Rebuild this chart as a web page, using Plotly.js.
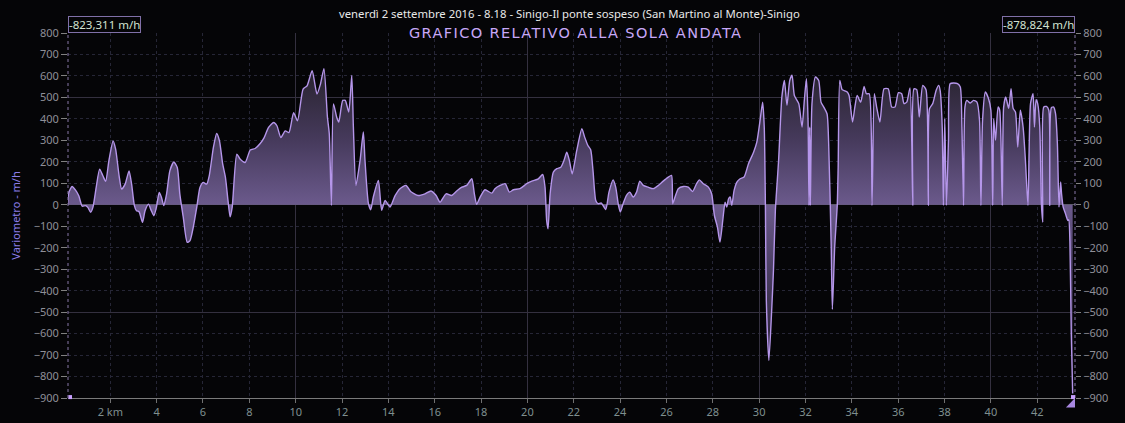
<!DOCTYPE html>
<html>
<head>
<meta charset="utf-8">
<script src="https://cdn.plot.ly/plotly-3.0.1.min.js"></script>
<style>
html,body{margin:0;padding:0;background:#050507;}
#chart{width:1125px;height:423px;}
g.annotation[data-index="1"] text{letter-spacing:1.4px;}
</style>
</head>
<body>
<div id="chart"></div>
<script>
// Distance (km)
const distanceKm = [
0.15,0.21,0.35,0.50,0.64,0.79,0.93,1.03,1.15,1.25,1.39,1.54,1.68,1.80,1.94,2.12,2.23,2.38,2.49,2.64,
2.81,2.92,3.04,3.13,3.24,3.39,3.50,3.65,3.76,3.88,3.99,4.11,4.21,4.31,4.43,4.57,4.74,4.89,5.00,5.15,
5.32,5.44,5.58,5.73,5.87,6.01,6.16,6.27,6.45,6.59,6.71,6.85,6.97,7.08,7.17,7.26,7.46,7.60,7.82,8.04,
8.25,8.47,8.64,8.83,9.05,9.19,9.36,9.55,9.71,9.91,10.08,10.32,10.49,10.71,10.92,11.07,
11.22,11.37,11.45,11.54,11.63,11.77,11.86,12.03,12.14,12.29,12.42,12.49,12.60,12.78,12.92,12.99,13.14,13.24,13.35,13.57,
13.71,13.86,14.07,14.29,14.50,14.76,14.96,15.29,15.58,15.84,16.06,16.23,16.49,16.73,16.95,17.17,17.38,17.60,17.71,17.81,
17.96,18.17,18.46,18.60,18.82,19.04,19.22,19.40,19.68,19.97,20.19,20.47,20.66,20.76,20.83,20.89,20.98,21.12,21.27,21.44,
21.58,21.70,21.81,21.93,22.13,22.35,22.47,22.61,22.73,22.83,22.95,23.05,23.19,23.38,23.52,23.70,23.81,23.93,24.01,24.13,
24.27,24.42,24.56,24.71,24.85,25.00,25.21,25.43,25.65,25.86,26.08,26.22,26.27,26.37,26.51,26.73,26.94,27.13,27.30,27.42,
27.59,27.81,27.95,28.07,28.20,28.31,28.43,28.53,28.60,28.68,28.75,28.82,28.92,29.04,29.18,29.35,29.54,29.76,29.90,30.05,
30.15,30.22,30.27,30.31,30.42,30.55,30.62,30.70,30.84,30.98,31.09,31.20,31.32,31.42,31.52,31.71,31.85,31.95,32.04,32.11,
32.15,32.18,32.21,32.28,32.43,32.57,32.67,32.79,32.93,33.00,33.11,33.16,33.26,33.37,33.41,33.48,33.58,33.70,33.80,33.88,
34.03,34.13,34.23,34.38,34.53,34.63,34.75,34.87,34.97,35.07,35.21,35.39,35.57,35.72,35.86,36.01,36.15,36.25,36.37,36.51,
36.63,36.68,36.80,36.91,37.06,37.20,37.30,37.35,37.49,37.64,37.75,37.81,37.90,37.95,38.01,38.08,38.17,38.24,38.39,38.56,
38.68,38.75,38.82,38.88,38.96,39.11,39.25,39.40,39.51,39.57,39.64,39.76,39.90,40.00,40.08,40.12,40.20,40.31,40.38,40.49,
40.55,40.64,40.77,40.87,40.96,41.06,41.16,41.27,41.39,41.49,41.60,41.71,41.82,41.88,41.95,42.02,42.11,42.18,42.24,42.28,
42.40,42.50,42.54,42.61,42.71,42.79,42.87,42.94,43.01,43.05,43.12,43.22,43.32,43.36,43.41,43.47,43.53
];
// Vertical speed (m/h)
const variometro = [
0,57,85,68,42,-7,-4,-12,-35,-12,80,166,135,109,205,297,259,135,73,96,
158,96,-4,-28,-32,-82,-28,3,-25,-51,-12,57,34,-4,51,158,199,174,51,-59,
-175,-167,-105,-12,80,104,96,135,267,332,298,190,127,19,-56,-12,236,213,197,255,
262,285,313,360,383,368,313,344,336,429,391,539,554,624,516,562,
634,408,331,-3,470,408,385,486,486,432,602,362,90,207,339,207,5,-23,36,113,
-26,20,-11,43,75,90,62,43,51,64,43,12,51,43,64,82,90,121,51,2,
36,70,54,75,90,98,59,70,75,98,110,121,141,82,-73,-112,51,152,168,175,
207,245,207,144,253,354,315,276,256,160,20,5,8,-22,59,116,82,-3,-34,5,
43,59,36,59,110,90,82,75,90,110,129,137,5,36,75,85,82,62,98,116,
98,82,51,-50,-104,-174,-73,12,-11,28,36,-3,67,106,121,129,191,245,292,401,
478,362,0,-446,-725,-470,-300,-26,207,502,579,463,579,603,509,471,362,486,587,393,
-3,362,-3,471,595,579,478,455,424,284,-197,-487,-197,-3,175,579,536,530,525,509,
385,455,509,478,551,517,517,-3,517,455,385,540,540,455,455,522,517,471,478,544,
-3,540,536,408,556,536,-3,447,471,533,556,533,362,-3,401,-3,300,564,567,564,
548,362,-3,455,486,474,486,478,393,-3,393,525,494,440,-3,401,300,455,440,-3,
455,502,449,540,449,432,269,440,362,207,-3,471,517,362,489,471,362,5,-81,455,
458,440,-3,452,455,424,284,-11,106,51,-11,-42,-73,-70,-170,-600,-879
];
// Axis ticks
const xTickVals = [2,4,6,8,10,12,14,16,18,20,22,24,26,28,30,32,34,36,38,40,42];
const xTickText = ["2 km","4","6","8","10","12","14","16","18","20","22","24","26","28","30","32","34","36","38","40","42"];
const xRange = [0.175, 43.63];
const yRange = [-900, 800];
const leftLabel = "-823,311 m/h";
const rightLabel = "-878,824 m/h";
const titleText = "venerdì 2 settembre 2016 - 8.18 - Sinigo-Il ponte sospeso (San Martino al Monte)-Sinigo";
const subTitle = "GRAFICO RELATIVO ALLA SOLA ANDATA";

const FONT = "'Noto Sans', 'DejaVu Sans', sans-serif";
const tickFont = {family: FONT, size: 11, color: '#8f8f98'};

const traces = [
  {
    x: distanceKm, y: variometro, type: 'scatter', mode: 'lines',
    line: {color: '#b596ea', width: 1.4, shape: 'spline', smoothing: 0.6},
    fill: 'tozeroy',
    fillcolor: 'rgba(100,84,132,0.8)',
    fillgradient: {
      type: 'vertical', start: -900, stop: 800,
      colorscale: [[0,'#1a1620'],[0.12,'#2a2236'],[0.35,'#4a3e62'],[0.529,'#6b5a8c'],[0.706,'#463a5c'],[0.88,'#2b2533'],[1,'#1a1620']]
    },
    hoverinfo: 'skip', showlegend: false
  },
  { x: [distanceKm[0]], y: [0], xaxis: 'x2', yaxis: 'y2', mode: 'none', type: 'scatter', hoverinfo: 'skip', showlegend: false },
  { x: [distanceKm[0]], y: [0], xaxis: 'x', yaxis: 'y3', mode: 'none', type: 'scatter', hoverinfo: 'skip', showlegend: false }
];

const layout = {
  width: 1125, height: 423,
  paper_bgcolor: '#050507', plot_bgcolor: '#050507',
  margin: {l: 68, r: 50, t: 33, b: 25},
  showlegend: false,
  xaxis: {
    range: xRange, tickvals: xTickVals, ticktext: xTickText,
    showgrid: true, gridcolor: '#262636', griddash: 'dot', gridwidth: 1,
    ticks: 'outside', ticklen: 4, tickcolor: '#707070',
    showline: true, linecolor: '#7a7a7a', linewidth: 1,
    tickfont: {family: FONT, size: 11, color: '#7f8f8f'},
    zeroline: false, fixedrange: true
  },
  xaxis2: {
    overlaying: 'x', range: xRange, dtick: 10, tick0: 0,
    showgrid: true, gridcolor: '#34303f', gridwidth: 1,
    showticklabels: false, ticks: '', zeroline: false, showline: false
  },
  yaxis: {
    range: yRange, dtick: 100, tick0: 0,
    showgrid: true, gridcolor: '#262636', griddash: 'dot',
    ticks: 'outside', ticklen: 6, tickcolor: '#808080',
    tickfont: tickFont, zeroline: true, zerolinecolor: '#5a5a62', zerolinewidth: 1,
    showline: false,
    title: {text: 'Variometro - m/h', font: {family: FONT, size: 11, color: '#8c7ee8'}, standoff: 10},
    fixedrange: true
  },
  yaxis2: {
    overlaying: 'y', side: 'right', range: yRange, dtick: 100, tick0: 0,
    showgrid: false, ticks: 'outside', ticklen: 5, tickcolor: '#808080',
    tickfont: tickFont, zeroline: false, showline: false
  },
  yaxis3: {
    overlaying: 'y', range: yRange, dtick: 500, tick0: 0,
    showgrid: true, gridcolor: '#34303f', showticklabels: false, ticks: '', zeroline: false
  },
  shapes: [
    {type: 'line', xref: 'paper', yref: 'paper', x0: 0, x1: 0, y0: 0, y1: 1, line: {color: '#8878a8', width: 1, dash: 'dot'}},
    {type: 'line', xref: 'paper', yref: 'paper', x0: 1, x1: 1, y0: 0, y1: 1, line: {color: '#8878a8', width: 1, dash: 'dot'}},
    {type: 'rect', xref: 'paper', yref: 'paper', x0: 0.0005, x1: 0.004, y0: -0.003, y1: 0.008, fillcolor: '#c8a0ff', line: {width: 0}},
    {type: 'rect', xref: 'paper', yref: 'paper', x0: 0.996, x1: 1, y0: -0.003, y1: 0.008, fillcolor: '#c8a0ff', line: {width: 0}},
    {type: 'path', xref: 'paper', yref: 'paper', path: 'M 0.991 -0.026 L 1 -0.026 L 1 0 Z', fillcolor: '#a888e0', line: {width: 0}}
  ],
  annotations: [
    {text: titleText, xref: 'paper', yref: 'paper', x: 0.498, y: 1, yanchor: 'middle', yshift: 20, showarrow: false,
     font: {family: FONT, size: 11.3, color: '#e8e8e8'}},
    {text: subTitle, xref: 'paper', yref: 'paper', x: 0.504, y: 1, yanchor: 'middle', yshift: 0, showarrow: false,
     font: {family: "'DejaVu Sans', Verdana, sans-serif", size: 14.5, color: '#c8a8f8'}},
    {text: leftLabel, xref: 'paper', yref: 'paper', x: 0, y: 1, xanchor: 'left', yanchor: 'bottom', yshift: 0, showarrow: false,
     font: {family: FONT, size: 11.5, color: '#d2e2d2'}, bordercolor: '#8070a8', borderwidth: 1, borderpad: 0, bgcolor: '#050507'},
    {text: rightLabel, xref: 'paper', yref: 'paper', x: 1, y: 1, xanchor: 'right', yanchor: 'bottom', yshift: 0, showarrow: false,
     font: {family: FONT, size: 11.5, color: '#d2e2d2'}, bordercolor: '#8070a8', borderwidth: 1, borderpad: 0, bgcolor: '#050507'}
  ]
};

Plotly.newPlot('chart', traces, layout, {displayModeBar: false, staticPlot: true});
</script>
</body>
</html>
